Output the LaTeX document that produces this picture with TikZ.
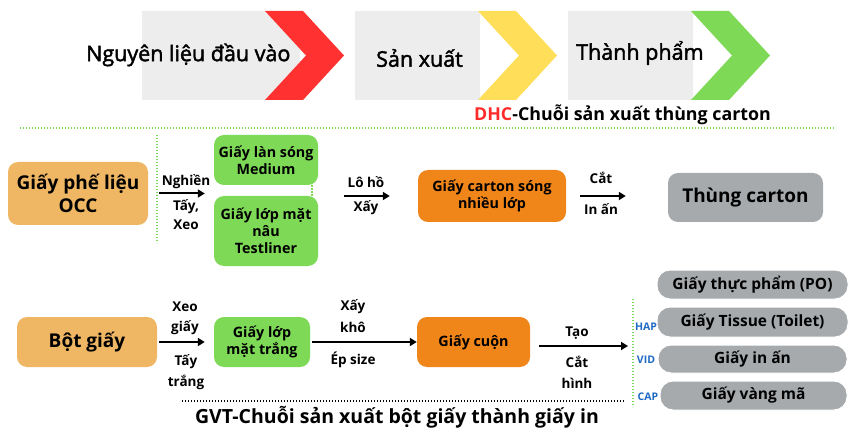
\documentclass[tikz,border=0pt]{standalone}
\usepackage{fontspec}
\setmainfont{Open Sans}
\newfontfamily\medfont[FakeBold=2]{Open Sans}
\usetikzlibrary{arrows.meta}
\definecolor{chevgray}{HTML}{EDEDED}
\definecolor{cred}{HTML}{FF3131}
\definecolor{cyellow}{HTML}{FFDE59}
\definecolor{cgreen}{HTML}{7ED957}
\definecolor{lorange}{HTML}{EFB764}
\definecolor{dorange}{HTML}{F0851A}
\definecolor{bgray}{HTML}{A6AAAD}
\definecolor{hblue}{HTML}{1F6BC4}
\definecolor{dhcred}{HTML}{FF2A2A}
\begin{document}
\begin{tikzpicture}[x=1pt,y=-1pt,
  box/.style={rounded corners=10pt, inner sep=0pt, align=center, text=black,
    font=\bfseries\fontsize{14.3}{17}\selectfont},
  bigbox/.style={box, font=\bfseries\fontsize{19}{23}\selectfont},
  pill/.style={box, rounded corners=13pt, fill=bgray, draw=white, line width=1pt,
    font=\bfseries\fontsize{15.5}{18}\selectfont},
  arr/.style={line width=2pt, -{Triangle[length=7pt,width=8pt]}},
  lbl/.style={inner sep=0pt, font=\bfseries\fontsize{13.5}{15}\selectfont},
  hlbl/.style={inner sep=0pt, text=hblue, font=\bfseries\fontsize{10.5}{11}\selectfont},
  gdot/.style={draw=cgreen, line width=1.5pt, dash pattern=on 1.4pt off 1.6pt},
  kdot/.style={draw=black, line width=1.3pt, dash pattern=on 1.3pt off 1.7pt},
  head/.style={inner sep=0pt, anchor=west, font=\medfont\fontsize{21.5}{24}\selectfont}
]
\useasboundingbox (0,0) rectangle (853,430);
\fill[white] (0,0) rectangle (853,430);

% top chevrons
\fill[chevgray] (142,11) rectangle (300,100);
\fill[cred] (265,11) -- (303,11) -- (344,55.5) -- (303,100) -- (265,100) -- (306,55.5) -- cycle;
\fill[chevgray] (355,11) rectangle (480,100);
\fill[cyellow] (478,11) -- (516,11) -- (557,55.5) -- (516,100) -- (478,100) -- (519,55.5) -- cycle;
\fill[chevgray] (568,11) rectangle (693,100);
\fill[cgreen] (691,11) -- (729,11) -- (770,55.5) -- (729,100) -- (691,100) -- (732,55.5) -- cycle;
\node[head] (h1) at (86,55) {Nguyên liệu đầu vào};
\node[head] (h2) at (376,58) {Sản xuất};
\node[head] (h3) at (576,53) {Thành phẩm};
\node[inner sep=0pt, anchor=west, font=\bfseries\fontsize{17.8}{20}\selectfont] (dhc) at (474,115) {\textcolor{dhcred}{DHC}-Chuỗi sản xuất thùng carton};
\draw[gdot] (20,128) -- (835,128);

% middle chain
\node[bigbox, fill=lorange, minimum width=140pt, minimum height=63pt] (occ) at (78,193.5) {Giấy phế liệu\\OCC};
\node[box, fill=cgreen, minimum width=104pt, minimum height=50pt] (med) at (266,160) {Giấy làn sóng\\Medium};
\node[box, fill=cgreen, minimum width=104pt, minimum height=70pt] (test) at (266,231) {Giấy lớp mặt\\nâu\\Testliner};
\node[box, fill=dorange, minimum width=148pt, minimum height=52pt] (carton) at (492,196) {Giấy carton sóng\\nhiều lớp};
\node[bigbox, fill=bgray, minimum width=155pt, minimum height=49pt] (thung) at (745.5,197.5) {Thùng carton};
\coordinate (v1a) at (157,135);
\coordinate (v1b) at (157,243);
\draw[gdot] (v1a) -- (v1b);
\draw[gdot] ([xshift=-6pt]med.south east) -- ([xshift=-6pt]test.north east);

\draw[arr, shorten <=11pt, shorten >=9pt] (occ.east) -- (occ.east -| med.west);
\node[lbl] (l1) at (186,182) {Nghiền};
\node[lbl] (l2) at (186,207) {Tấy,};
\node[lbl] (l3) at (186,225) {Xeo};
\draw[arr, shorten <=26pt, shorten >=28pt] (carton.west -| med.east) -- (carton.west);
\node[lbl] (l4) at (366,182) {Lô hồ};
\node[lbl] (l5) at (366,208) {Xấy};
\draw[arr, shorten <=14pt, shorten >=42pt] (carton.east) -- (carton.east -| thung.west);
\node[lbl] (l6) at (601,178) {Cắt};
\node[lbl] (l7) at (601,209) {In ấn};

% bottom chain
\node[bigbox, fill=lorange, minimum width=140pt, minimum height=50pt] (bot) at (87,342) {Bột giấy};
\node[box, fill=cgreen, minimum width=96pt, minimum height=50pt] (trang) at (262,342) {Giấy lớp\\mặt trắng};
\node[box, fill=dorange, minimum width=113pt, minimum height=50pt] (cuon) at (473.5,342) {Giấy cuộn};
\draw[arr, shorten <=2pt, shorten >=9pt] (bot.east) -- (trang.west);
\node[lbl] (b1) at (185,307) {Xeo};
\node[lbl] (b2) at (185,328) {giấy};
\node[lbl] (b3) at (186,362) {Tấy};
\node[lbl] (b4) at (186,382) {trắng};
\draw[arr, shorten <=2pt, shorten >=0pt] (trang.east) -- (cuon.west);
\node[lbl] (b5) at (353,307) {Xấy};
\node[lbl] (b6) at (353,327) {khô};
\node[lbl] (b7) at (353,360) {Ép size};
\coordinate (v2a) at (633,299);
\coordinate (v2b) at (633,407);
\draw[gdot] (v2a) -- (v2b);
\coordinate (split) at (633,346);
\draw[arr, shorten <=9pt, shorten >=5pt] (cuon.east |- split) -- (split);
\node[lbl] (b8) at (577,333) {Tạo};
\node[lbl] (b9) at (577,362) {Cắt};
\node[lbl] (b10) at (577,383) {hình};

\node[pill, minimum width=191pt, minimum height=29pt] (po) at (752.5,284.5) {Giấy thực phẩm (PO)};
\node[pill, minimum width=191pt, minimum height=30pt] (tis) at (752.5,322) {Giấy Tissue (Toilet)};
\node[pill, minimum width=189pt, minimum height=28pt] (inan) at (752.5,359) {Giấy in ấn};
\node[pill, minimum width=187pt, minimum height=29pt] (vang) at (753.5,395.5) {Giấy vàng mã};
\node[hlbl] (hap) at (646,327) {HAP};
\node[hlbl] (vid) at (646,360) {VID};
\node[hlbl] (cap) at (648,397) {CAP};

\coordinate (k1) at (182,401);
\coordinate (k2) at (625,401);
\draw[kdot] (k1) -- (k2);
\node[inner sep=0pt, font=\bfseries\fontsize{19.5}{22}\selectfont] (gvt) at (397,417) {GVT-Chuỗi sản xuất bột giấy thành giấy in};
\end{tikzpicture}
\end{document}
